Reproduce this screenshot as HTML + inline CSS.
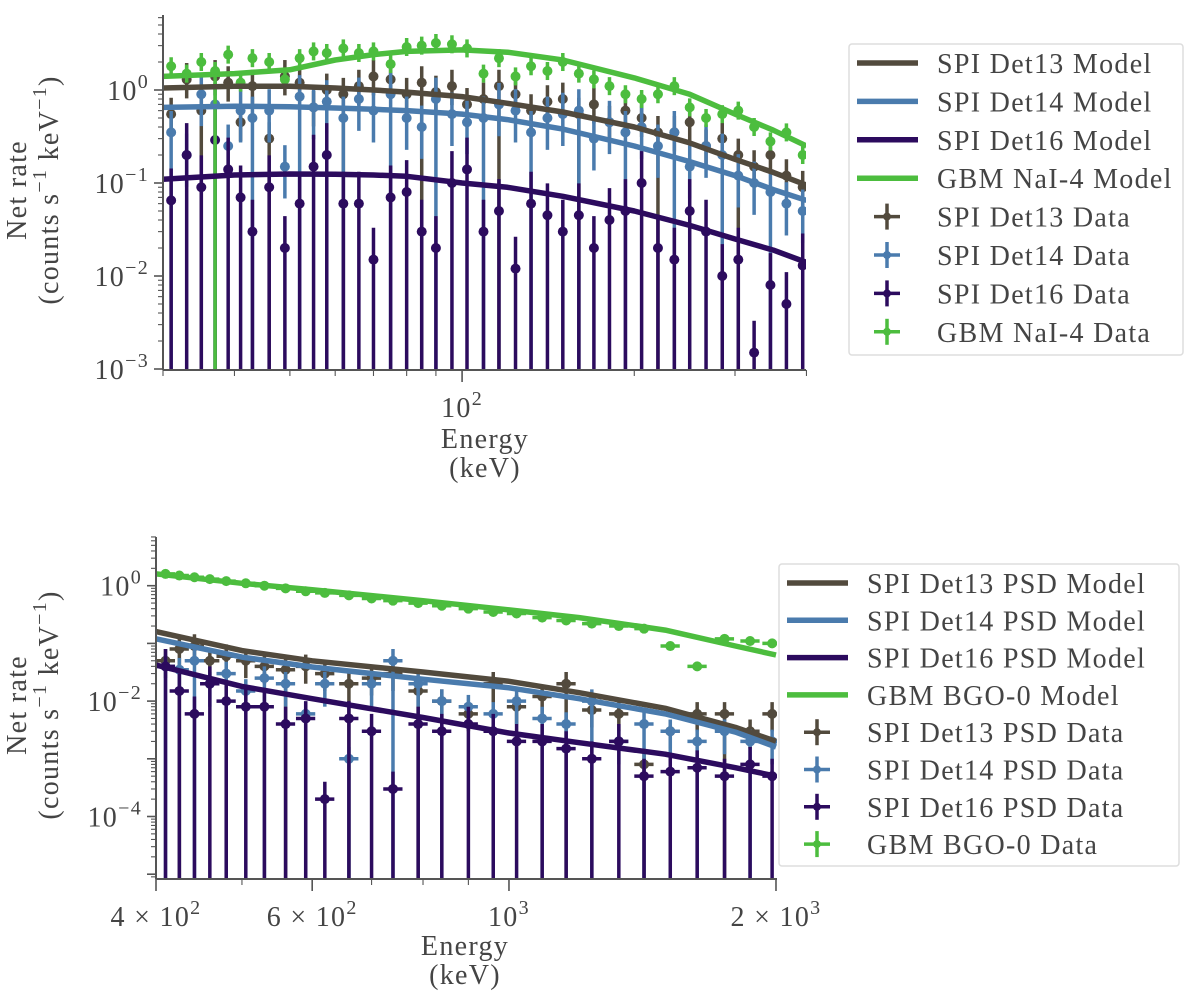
<!DOCTYPE html>
<html><head><meta charset="utf-8"><style>
html,body{margin:0;padding:0;background:#fff;}
svg{display:block;font-family:"Liberation Serif","DejaVu Serif",serif;}
svg text{letter-spacing:1.3px;}
</style></head><body>
<svg id="fig" width="1200" height="996" viewBox="0 0 1200 996" xmlns="http://www.w3.org/2000/svg"></svg>
<script>
// ---------- TOP PANEL DATA ----------
const topE=[31,33,35,37,39,41,43,46,49,52,55,58,62,66,70,75,80,85,90,96,102,109,116,124,132,141,150,160,170,181,193,206,220,235,250,267,285,304,324,346,369,394];
const topDet13=[0.55,1.3,0.6,1.4,1.2,0.45,1.1,0.3,1.4,1.2,0.65,1.0,0.9,1.1,1.4,1.3,0.9,1.2,0.95,1.1,0.7,0.8,1.1,0.9,0.6,0.75,0.8,0.55,0.7,0.45,0.6,0.5,0.35,0.35,0.45,0.25,0.3,0.2,0.15,0.2,0.12,0.09];
const topDet14=[0.35,0.2,0.9,0.7,0.25,0.6,0.5,0.6,0.15,0.85,0.65,0.75,0.5,0.8,0.6,0.9,0.5,0.4,0.8,0.55,0.45,0.5,0.7,0.6,0.35,0.5,0.55,0.6,0.3,0.45,0.35,0.4,0.25,0.35,0.15,0.25,0.2,0.12,0.1,0.08,0.06,0.05];
const topDet16=[0.065,0.2,0.09,0.29,0.14,0.07,0.03,0.09,0.02,0.06,0.15,0.2,0.06,0.06,0.015,0.07,0.08,0.03,0.02,0.1,0.14,0.03,0.05,0.012,0.06,0.045,0.03,0.045,0.02,0.04,0.05,0.1,0.02,0.015,0.05,0.03,0.01,0.015,0.0015,0.008,0.005,0.013];
const topNaI=[1.8,1.5,2.0,1.6,2.4,1.2,2.2,2.0,1.3,2.2,2.6,2.5,2.8,2.5,2.6,1.9,2.9,3.0,3.2,3.1,2.8,1.5,2.2,1.4,1.8,1.6,2.0,1.5,1.3,1.1,0.9,0.8,0.9,1.1,0.65,0.5,0.55,0.6,0.4,0.28,0.35,0.2];
const topModelE=[30,40,50,60,70,80,100,120,150,200,250,300,350,400];
const topModel13=[1.05,1.1,1.1,1.05,1.0,0.95,0.85,0.72,0.58,0.4,0.27,0.18,0.13,0.095];
const topModel14=[0.65,0.67,0.66,0.64,0.62,0.6,0.55,0.48,0.38,0.25,0.17,0.12,0.085,0.065];
const topModel16=[0.11,0.122,0.125,0.124,0.122,0.118,0.1,0.09,0.072,0.05,0.035,0.025,0.019,0.014];
const topModelNaI=[1.4,1.5,1.65,2.1,2.4,2.6,2.7,2.55,2.1,1.35,0.9,0.55,0.37,0.25];
const topYTicks=[0,-1,-2,-3];
// ---------- BOTTOM PANEL DATA ----------
const botE=[410,425,442,460,480,505,530,560,590,620,660,700,740,790,840,900,960,1020,1090,1160,1240,1330,1420,1520,1630,1750,1870,1980];
const botDet13=[0.05,0.08,0.09,0.05,0.06,0.05,0.04,0.035,0.04,0.03,0.02,0.025,0.03,0.015,0.01,0.006,0.02,0.008,0.012,0.02,0.007,0.006,0.0008,0.003,0.006,0.006,0.003,0.006];
const botDet14=[0.04,0.035,0.05,0.02,0.03,0.015,0.025,0.02,0.006,0.02,0.001,0.02,0.05,0.02,0.01,0.008,0.006,0.01,0.005,0.004,0.01,0.002,0.004,0.003,0.002,0.003,0.002,0.002];
const botDet16=[0.04,0.015,0.006,0.02,0.01,0.008,0.008,0.004,0.005,0.0002,0.005,0.003,0.0003,0.004,0.003,0.004,0.003,0.002,0.002,0.0015,0.001,0.002,0.0005,0.0006,0.0007,0.0005,0.0008,0.0005];
const botBGO=[1.6,1.5,1.4,1.3,1.2,1.1,1.0,0.9,0.8,0.75,0.68,0.6,0.55,0.5,0.45,0.4,0.35,0.33,0.28,0.25,0.22,0.2,0.18,0.09,0.04,0.12,0.11,0.1];
const botModelE=[400,500,600,800,1000,1200,1500,1800,2000];
const botModel13=[0.16,0.075,0.05,0.032,0.022,0.014,0.0075,0.0035,0.002];
const botModel14=[0.12,0.058,0.039,0.024,0.017,0.011,0.006,0.0029,0.0016];
const botModel16=[0.042,0.018,0.011,0.0052,0.0028,0.0019,0.0012,0.0007,0.0005];
const botModelBGO=[1.6,1.1,0.85,0.55,0.38,0.28,0.17,0.09,0.063];
const botYTicks=[0,-2,-4];

const C13='#524a3d',C14='#4a7bad',C16='#2c0b5e',CNaI='#4cbd3e',AX='#555';
const NS='http://www.w3.org/2000/svg';
const svg=document.getElementById('fig');
const FS=28;
function el(tag,attrs,parent){const e=document.createElementNS(NS,tag);for(const k in attrs)e.setAttribute(k,attrs[k]);(parent||svg).appendChild(e);return e;}

function panel(cfg){
  const g=el('g',{});
  
  
  const xs=v=>cfg.x0+(Math.log10(v)-Math.log10(cfg.xmin))*cfg.xpd;
  const ys=v=>cfg.y0-Math.log10(v)*cfg.ypd;
  const clip='clip-'+cfg.name;
  const cp=el('clipPath',{id:clip},g);
  el('rect',{x:cfg.left,y:cfg.top,width:cfg.right-cfg.left,height:cfg.bottom-cfg.top},cp);
  const plot=el('g',{'clip-path':'url(#'+clip+')'},g);
  
  
  cfg.data.forEach((s,si)=>{
    const sg=el('g',{},plot);
    
    
    s.v.forEach((v,i)=>{
      const E=cfg.E[i];const x=xs(E),y=ys(v);
      const up=ys(v*s.fu),lo=s.fl(v,i)?ys(v/s.fl(v,i)):cfg.bottom+5;
      el('line',{x1:x,y1:up,x2:x,y2:lo,stroke:s.c,'stroke-width':3.5},sg);
      const hw=cfg.E[i]*cfg.xerr;
      el('line',{x1:xs(E-hw),y1:y,x2:xs(E+hw),y2:y,stroke:s.c,'stroke-width':3.5},sg);
      const p=el('circle',{cx:x,cy:y,r:5,fill:s.c},sg);
      
      
    });
  });
  cfg.models.forEach(m=>{
    const d=cfg.ME.map((E,i)=>(i?'L':'M')+xs(E).toFixed(1)+','+ys(m.v[i]).toFixed(1)).join(' ');
    const p=el('path',{d:d,fill:'none',stroke:m.c,'stroke-width':5.5,'stroke-linejoin':'round'},plot);
    
    
  });
  el('line',{x1:cfg.left,y1:cfg.top,x2:cfg.left,y2:cfg.bottom,stroke:AX,'stroke-width':2},g);
  el('line',{x1:cfg.left,y1:cfg.bottom,x2:cfg.right,y2:cfg.bottom,stroke:AX,'stroke-width':2},g);
  for(let d=-6;d<=1;d++){for(let m=1;m<10;m++){const v=m*Math.pow(10,d);const y=ys(v);if(y<cfg.top-0.5||y>cfg.bottom+0.5)continue;
    el('line',{x1:cfg.left-(m===1?9:5),y1:y,x2:cfg.left,y2:y,stroke:AX,'stroke-width':m===1?1.6:1.1},g);}}
  cfg.yticks.forEach(p=>{const y=ys(Math.pow(10,p));
    const t=el('text',{x:cfg.left-14,y:y+10,'font-size':FS,fill:'#444','text-anchor':'end'},g);
    
    
    t.innerHTML='10<tspan dy="-12" font-size="20">'+(p<0?'\u2212'+(-p):p)+'</tspan>';});
  for(let d=1;d<=3;d++){for(let m=1;m<10;m++){const v=m*Math.pow(10,d);const x=xs(v);if(x<cfg.left-0.5||x>cfg.right+0.5)continue;
    const major=cfg.xmajor.includes(v);
    el('line',{x1:x,y1:cfg.bottom,x2:x,y2:cfg.bottom+(major?12:6),stroke:AX,'stroke-width':major?1.6:1.1},g);}}
  cfg.xlabels.forEach(l=>{const t=el('text',{x:xs(l.v),y:cfg.bottom+47,'font-size':FS,fill:'#444','text-anchor':'middle'},g);
    
    
    t.innerHTML=l.h;});
  const yl=el('g',{transform:'translate('+cfg.ylx+','+cfg.yly+') rotate(-90)'},g);
  
  
  el('text',{x:0,y:0,'font-size':FS,fill:'#444','text-anchor':'middle'},yl).textContent='Net rate';
  el('text',{x:0,y:32,'font-size':FS,fill:'#444','text-anchor':'middle'},yl).innerHTML='(counts s<tspan dy="-12" font-size="20">\u22121</tspan><tspan dy="12"> keV</tspan><tspan dy="-12" font-size="20">\u22121</tspan><tspan dy="12">)</tspan>';
  const xl=el('g',{},g);
  
  
  el('text',{x:cfg.xlx,y:cfg.xly,'font-size':FS,fill:'#444','text-anchor':'middle'},xl).textContent='Energy';
  el('text',{x:cfg.xlx,y:cfg.xly+29,'font-size':FS,fill:'#444','text-anchor':'middle'},xl).textContent='(keV)';
  const L=cfg.legend;
  const lg=el('g',{},g);
  
  
  el('rect',{x:L.x,y:L.y,width:L.w,height:L.h,rx:3,fill:'#fff',stroke:'#ddd','stroke-width':1.5},lg);
  L.items.forEach((it,i)=>{
    const y=L.y+19+i*L.dy;
    const eg=el('g',{},lg);
    
    
    if(it.model){el('line',{x1:L.x+8,y1:y,x2:L.x+69,y2:y,stroke:it.c,'stroke-width':5.5},eg);}
    else{const cx=L.x+38;el('line',{x1:cx,y1:y-13,x2:cx,y2:y+13,stroke:it.c,'stroke-width':3.5},eg);
      el('line',{x1:cx-13,y1:y,x2:cx+13,y2:y,stroke:it.c,'stroke-width':3.5},eg);
      el('circle',{cx:cx,cy:y,r:4,fill:it.c},eg);}
    el('text',{x:L.x+88,y:y+10,'font-size':FS,fill:'#444'},eg).textContent=it.t;
  });
}

panel({name:'top-panel',left:163,right:806,top:15,bottom:370,x0:163,xmin:30,xpd:572,y0:90,ypd:93,
  E:topE,xerr:0.012,ME:topModelE,
  data:[
    {name:'det13-data',v:topDet13,c:C13,fu:1.5,fl:(v,i)=>(i%5===2?0:1.6)},
    {name:'det14-data',v:topDet14,c:C14,fu:1.7,fl:(v,i)=>(i%3===0?0:2.2)},
    {name:'det16-data',v:topDet16,c:C16,fu:2.2,fl:()=>0},
    {name:'nai4-data',v:topNaI,c:CNaI,fu:1.25,fl:(v,i)=>(i===3?0:1.25)}],
  models:[{name:'det13-model',v:topModel13,c:C13},{name:'det14-model',v:topModel14,c:C14},{name:'det16-model',v:topModel16,c:C16},{name:'nai4-model',v:topModelNaI,c:CNaI}],
  yticks:topYTicks,xmajor:[100],xlabels:[{v:100,h:'10<tspan dy="-12" font-size="20">2</tspan>'}],
  ylx:26,yly:190,xlx:485,xly:448,
  legend:{x:849,y:44,w:334,h:311,dy:38.4,items:[
    {t:'SPI Det13 Model',c:C13,model:1},{t:'SPI Det14 Model',c:C14,model:1},{t:'SPI Det16 Model',c:C16,model:1},{t:'GBM NaI-4 Model',c:CNaI,model:1},
    {t:'SPI Det13 Data',c:C13},{t:'SPI Det14 Data',c:C14},{t:'SPI Det16 Data',c:C16},{t:'GBM NaI-4 Data',c:CNaI}]}
});

panel({name:'bottom-panel',left:156,right:777,top:537,bottom:879,x0:156,xmin:400,xpd:887,y0:585.7,ypd:57.7,
  E:botE,xerr:0.025,ME:botModelE,
  data:[
    {name:'det13-psd-data',v:botDet13,c:C13,fu:1.6,fl:(v,i)=>(i%3===1?0:2)},
    {name:'det14-psd-data',v:botDet14,c:C14,fu:1.6,fl:(v,i)=>(i%2===0?0:2.5)},
    {name:'det16-psd-data',v:botDet16,c:C16,fu:2,fl:()=>0},
    {name:'bgo0-data',v:botBGO,c:CNaI,fu:1.15,fl:()=>1.15}],
  models:[{name:'det13-psd-model',v:botModel13,c:C13},{name:'det14-psd-model',v:botModel14,c:C14},{name:'det16-psd-model',v:botModel16,c:C16},{name:'bgo0-model',v:botModelBGO,c:CNaI}],
  yticks:botYTicks,xmajor:[400,600,1000,2000],
  xlabels:[{v:400,h:'4 \u00d7 10<tspan dy="-12" font-size="20">2</tspan>'},{v:600,h:'6 \u00d7 10<tspan dy="-12" font-size="20">2</tspan>'},{v:1000,h:'10<tspan dy="-12" font-size="20">3</tspan>'},{v:2000,h:'2 \u00d7 10<tspan dy="-12" font-size="20">3</tspan>'}],
  ylx:26,yly:705,xlx:465,xly:955,
  legend:{x:779,y:564,w:400,h:302,dy:37.3,items:[
    {t:'SPI Det13 PSD Model',c:C13,model:1},{t:'SPI Det14 PSD Model',c:C14,model:1},{t:'SPI Det16 PSD Model',c:C16,model:1},{t:'GBM BGO-0 Model',c:CNaI,model:1},
    {t:'SPI Det13 PSD Data',c:C13},{t:'SPI Det14 PSD Data',c:C14},{t:'SPI Det16 PSD Data',c:C16},{t:'GBM BGO-0 Data',c:CNaI}]}
});
</script>
</body></html>
